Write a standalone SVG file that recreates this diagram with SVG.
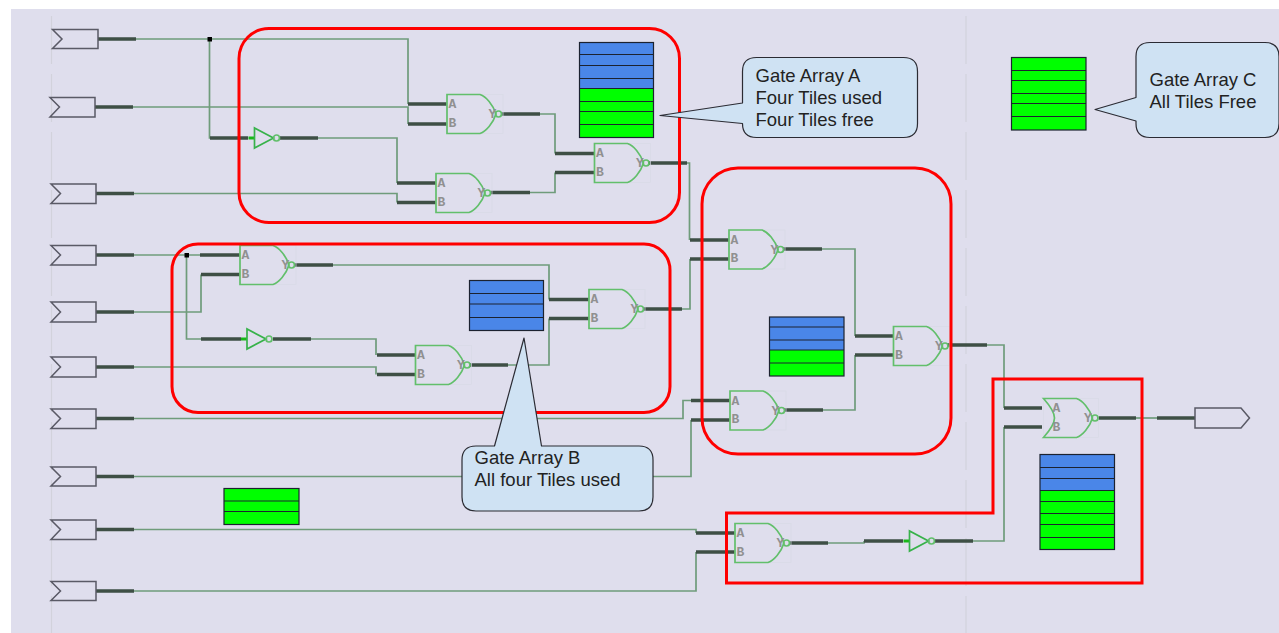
<svg xmlns="http://www.w3.org/2000/svg" xmlns:xlink="http://www.w3.org/1999/xlink" width="1279" height="633" viewBox="0 0 1279 633">
<style>
.grid{fill:none;stroke:#d2d2dc;stroke-width:1.2;stroke-dasharray:48 10}
.thin{fill:none;stroke:#6f9c7b;stroke-width:1.7}
.thick{fill:none;stroke:#3e4f45;stroke-width:3.5}
.pin{fill:none;stroke:#18b818;stroke-width:3}
.port{fill:none;stroke:#5a5a66;stroke-width:1.5}
.gate{fill:none;stroke:#62bf6b;stroke-width:1.7}
.inv{fill:none;stroke:#37b24a;stroke-width:1.7}
.bbox{fill:none;stroke:#d8dbe6;stroke-width:.7}
.lbl{font-family:"Liberation Mono",monospace;font-weight:bold;font-size:13px;fill:#909090}
.red{fill:none;stroke:#ff0000;stroke-width:3}
.b{fill:#4a86e8}
.g{fill:#00ff00}
.div{stroke:#1c2230;stroke-width:1;fill:none}
.frame{fill:none;stroke:#1c2230;stroke-width:1.2}
.call{fill:#cfe2f3;stroke:#2b2b33;stroke-width:1.2;stroke-linejoin:round}
.txt{font-family:"Liberation Sans",Arial,sans-serif;font-size:18.5px;fill:#222222}
</style>
<defs>
<g id="nand"><rect class="bbox" x="0" y="0" width="56" height="39"/><path class="gate" d="M0,0H33C39,2 46,10 49,19.5C46,29 39,37 33,39H0Z"/><circle class="gate" cx="51.500" cy="19.500" r="3"/></g>
<g id="nor"><rect class="bbox" x="0" y="0" width="55" height="39"/><path class="gate" d="M0,0H33C39,2 46,10 49,19.5C46,29 39,37 33,39H0C8,30 11,25 11,19.5C11,14 8,9 0,0Z"/><circle class="gate" cx="51.500" cy="19.500" r="3"/></g>
<g id="not"><path class="pin" d="M-6,10H0"/><path class="inv" d="M0,0V20L19,10Z"/><circle class="gate" cx="22" cy="10" r="3"/></g>
</defs>
<rect x="0" y="0" width="1279" height="633" fill="#ffffff"/>
<rect x="11" y="9" width="1268" height="624" fill="#dfdeed"/>
<path class="grid" d="M51.500,16V633"/>
<path class="grid" d="M966,16V633"/>

<g id="connectors">
<path class="thin" d="M136,39H408V104"/><path class="thin" d="M133,107H408V124"/>
<path class="thin" d="M134,193.500H397V202.500"/>
<path class="thin" d="M209.500,39V138H248"/>
<path class="thin" d="M318,138H397V183"/>
<path class="thin" d="M540,114H555V153.500"/><path class="thin" d="M530,192.500H555V172.500"/>
<path class="thin" d="M687,163H689.500V240"/>
<path class="thin" d="M134,255H200"/>
<path class="thin" d="M134,312H201V274.500"/>
<path class="thin" d="M186.500,255V339H201"/>
<path class="thin" d="M134,367H376V374.500"/>
<path class="thin" d="M311,339H376V355"/>
<path class="thin" d="M333,265H549V299.500"/><path class="thin" d="M508,365H549V318.500"/>
<path class="thin" d="M682,309H690V259"/>
<path class="thin" d="M134,418.500H683V400.500H691"/>
<path class="thin" d="M134,476.500H691V420"/>
<path class="thin" d="M134,529.500H696V533"/>
<path class="thin" d="M134,591H696V552"/>
<path class="thin" d="M822,249H855V336"/><path class="thin" d="M823,410H855V355"/>
<path class="thin" d="M987,345H1004V408"/>
<path class="thin" d="M973,541H1004V427"/>
<path class="thin" d="M828,543H864V541"/>
<path class="thin" d="M1136,418H1157"/>
<path class="thick" d="M98,39H136M95,107H133M96,193.500H134M96,255H134M96,312H134M96,367H134M96,418.500H134M96,476.500H134M96,529.500H134M96,591H134"/>
<path class="thick" d="M408,104H447M408,124H447M397,183H436M397,202.500H436M555,153.500H594M555,172.500H594"/>
<path class="thick" d="M501,114H540M491,192.500H530M648,163H687M210,138H248M280,138H318"/>
<path class="thick" d="M200,255H240M201,274.500H240M201,339H241M273,339H311M295,265H333"/>
<path class="thick" d="M377,355H415M377,374.500H415M470,365H508M549,299.500H589M549,318.500H589M643,309H682"/>
<path class="thick" d="M690,240H729M690,259H729M691,400.500H730M691,420H730M783,249H822M784,410H823"/>
<path class="thick" d="M855,336H893M855,355H893M947,345H987M1004,408H1042M1004,427H1042"/>
<path class="thick" d="M696,533H735M696,552H735M790,543H828M864,541H903M935,541H973M1097,418H1136M1157,418H1195"/>
<rect x="207.500" y="37" width="4.500" height="4.500" fill="#000"/>
<rect x="184.500" y="253" width="4.500" height="4.500" fill="#000"/>
</g>

<g id="in1"><path class="port" d="M52.500,29.500H98V48.500H52.500L62,39Z"/></g>
<g id="in2"><path class="port" d="M50,97.500H95V117H50L59.500,107Z"/></g>
<g id="in3"><path class="port" d="M51,184H96V203.500H51L60.500,193.500Z"/></g>
<g id="in4"><path class="port" d="M51,245.500H96V265H51L60.500,255Z"/></g>
<g id="in5"><path class="port" d="M51,302H96V322H51L60.500,312Z"/></g>
<g id="in6"><path class="port" d="M51,357H96V377H51L60.500,367Z"/></g>
<g id="in7"><path class="port" d="M51,409H96V428.500H51L60.500,418.500Z"/></g>
<g id="in8"><path class="port" d="M51,467H96V486H51L60.500,476.500Z"/></g>
<g id="in9"><path class="port" d="M51,520H96V539.500H51L60.500,529.500Z"/></g>
<g id="in10"><path class="port" d="M51,581.500H96V600.500H51L60.500,591Z"/></g>
<g id="out1"><path class="port" d="M1195,408H1241L1249.500,418L1241,428H1195Z"/></g>

<g id="gate1" transform="translate(447,94.500)"><use xlink:href="#nand" href="#nand"/><text class="lbl" x="1.500" y="13.500">A</text><text class="lbl" x="1.500" y="32">B</text><text class="lbl" x="41.500" y="23.500">Y</text></g>
<g id="gate2" transform="translate(436,173.500)"><use xlink:href="#nand" href="#nand"/><text class="lbl" x="1.500" y="13.500">A</text><text class="lbl" x="1.500" y="32">B</text><text class="lbl" x="41.500" y="23.500">Y</text></g>
<g id="gate3" transform="translate(594.500,143.500)"><use xlink:href="#nand" href="#nand"/><text class="lbl" x="1.500" y="13.500">A</text><text class="lbl" x="1.500" y="32">B</text><text class="lbl" x="41.500" y="23.500">Y</text></g>
<g id="gate4" transform="translate(240,245.500)"><use xlink:href="#nand" href="#nand"/><text class="lbl" x="1.500" y="13.500">A</text><text class="lbl" x="1.500" y="32">B</text><text class="lbl" x="41.500" y="23.500">Y</text></g>
<g id="gate5" transform="translate(415.500,345.500)"><use xlink:href="#nand" href="#nand"/><text class="lbl" x="1.500" y="13.500">A</text><text class="lbl" x="1.500" y="32">B</text><text class="lbl" x="41.500" y="23.500">Y</text></g>
<g id="gate6" transform="translate(589,289.500)"><use xlink:href="#nand" href="#nand"/><text class="lbl" x="1.500" y="13.500">A</text><text class="lbl" x="1.500" y="32">B</text><text class="lbl" x="41.500" y="23.500">Y</text></g>
<g id="gate7" transform="translate(729,230)"><use xlink:href="#nand" href="#nand"/><text class="lbl" x="1.500" y="13.500">A</text><text class="lbl" x="1.500" y="32">B</text><text class="lbl" x="41.500" y="23.500">Y</text></g>
<g id="gate8" transform="translate(730,391)"><use xlink:href="#nand" href="#nand"/><text class="lbl" x="1.500" y="13.500">A</text><text class="lbl" x="1.500" y="32">B</text><text class="lbl" x="41.500" y="23.500">Y</text></g>
<g id="gate9" transform="translate(893.500,326.500)"><use xlink:href="#nand" href="#nand"/><text class="lbl" x="1.500" y="13.500">A</text><text class="lbl" x="1.500" y="32">B</text><text class="lbl" x="41.500" y="23.500">Y</text></g>
<g id="gate10" transform="translate(735,523.500)"><use xlink:href="#nand" href="#nand"/><text class="lbl" x="1.500" y="13.500">A</text><text class="lbl" x="1.500" y="32">B</text><text class="lbl" x="41.500" y="23.500">Y</text></g>
<g id="gate11" transform="translate(1043.500,398.500)"><use xlink:href="#nor" href="#nor"/><text class="lbl" x="9" y="13.500">A</text><text class="lbl" x="9" y="32">B</text><text class="lbl" x="40.500" y="23.500">Y</text></g>
<g id="not1" transform="translate(254.500,128)"><use xlink:href="#not" href="#not"/></g>
<g id="not2" transform="translate(247,329)"><use xlink:href="#not" href="#not"/></g>
<g id="not3" transform="translate(909.500,531)"><use xlink:href="#not" href="#not"/></g>

<g id="tiles-a">
<rect class="b" x="579.500" y="42.500" width="74" height="46"/><rect class="g" x="579.500" y="88.500" width="74" height="49"/>
<path class="div" d="M579.500,54.500H653.500M579.500,65.500H653.500M579.500,78.500H653.500M579.500,88.500H653.500M579.500,101.500H653.500M579.500,111.500H653.500M579.500,124.500H653.500"/>
<rect class="frame" x="579.500" y="42.500" width="74" height="95"/>
</g>
<g id="tiles-b">
<rect class="b" x="469.500" y="280.500" width="74" height="50"/>
<path class="div" d="M469.500,293.500H543.500M469.500,304H543.500M469.500,317.500H543.500"/>
<rect class="frame" x="469.500" y="280.500" width="74" height="50"/>
</g>
<g id="tiles-c">
<rect class="g" x="1011.500" y="57.500" width="74.500" height="72.500"/>
<path class="div" d="M1011.500,70.500H1086M1011.500,80.500H1086M1011.500,93.500H1086M1011.500,103.500H1086M1011.500,116.500H1086"/>
<rect class="frame" x="1011.500" y="57.500" width="74.500" height="72.500"/>
</g>
<g id="tiles-d">
<rect class="b" x="769.500" y="317" width="74.500" height="33"/><rect class="g" x="769.500" y="350" width="74.500" height="26"/>
<path class="div" d="M769.500,327H844M769.500,340H844M769.500,350H844M769.500,363H844"/>
<rect class="frame" x="769.500" y="317" width="74.500" height="59"/>
</g>
<g id="tiles-e">
<rect class="b" x="1040" y="454.500" width="74.500" height="36"/><rect class="g" x="1040" y="490.500" width="74.500" height="59"/>
<path class="div" d="M1040,467.500H1114.500M1040,478.500H1114.500M1040,490.500H1114.500M1040,501.500H1114.500M1040,513.500H1114.500M1040,524.500H1114.500M1040,537.500H1114.500"/>
<rect class="frame" x="1040" y="454.500" width="74.500" height="95"/>
</g>
<g id="tiles-f">
<rect class="g" x="224" y="488.500" width="75" height="36"/>
<path class="div" d="M224,501H299M224,511.500H299"/>
<rect class="frame" x="224" y="488.500" width="75" height="36"/>
</g>

<g id="outlines">
<rect class="red" x="239" y="28.500" width="440.500" height="194" rx="30"/>
<rect class="red" x="172" y="244" width="498" height="168.500" rx="26"/>
<rect class="red" x="702" y="168" width="249" height="286" rx="36"/>
<path class="red" d="M726.500,513H993V379H1142V583H726.500Z"/>
</g>

<g id="callout-a">
<path class="call" d="M756.500,57.500H903.500Q917.500,57.500 917.500,71.500V123.500Q917.500,137.500 903.500,137.500H756.500Q742.500,137.500 742.500,123.500L660,115.500L742.500,103V71.500Q742.500,57.500 756.500,57.500Z"/>
<text class="txt" x="755.500" y="82">Gate Array A</text><text class="txt" x="755.500" y="104">Four Tiles used</text><text class="txt" x="755.500" y="126">Four Tiles free</text>
</g>
<g id="callout-b">
<path class="call" d="M476,446H494.500L524,338L541.500,446H639Q653,446 653,460V497Q653,511 639,511H476Q462,511 462,497V460Q462,446 476,446Z"/>
<text class="txt" x="474.500" y="464">Gate Array B</text><text class="txt" x="474.500" y="486">All four Tiles used</text>
</g>
<g id="callout-c">
<path class="call" d="M1150,42.500H1265Q1279,42.500 1279,56.500V123.500Q1279,137.500 1265,137.500H1150Q1136,137.500 1136,123.500V121L1095,109.500L1136,97.500V56.500Q1136,42.500 1150,42.500Z"/>
<text class="txt" x="1149.500" y="86">Gate Array C</text><text class="txt" x="1149.500" y="107.500">All Tiles Free</text>
</g>
</svg>
